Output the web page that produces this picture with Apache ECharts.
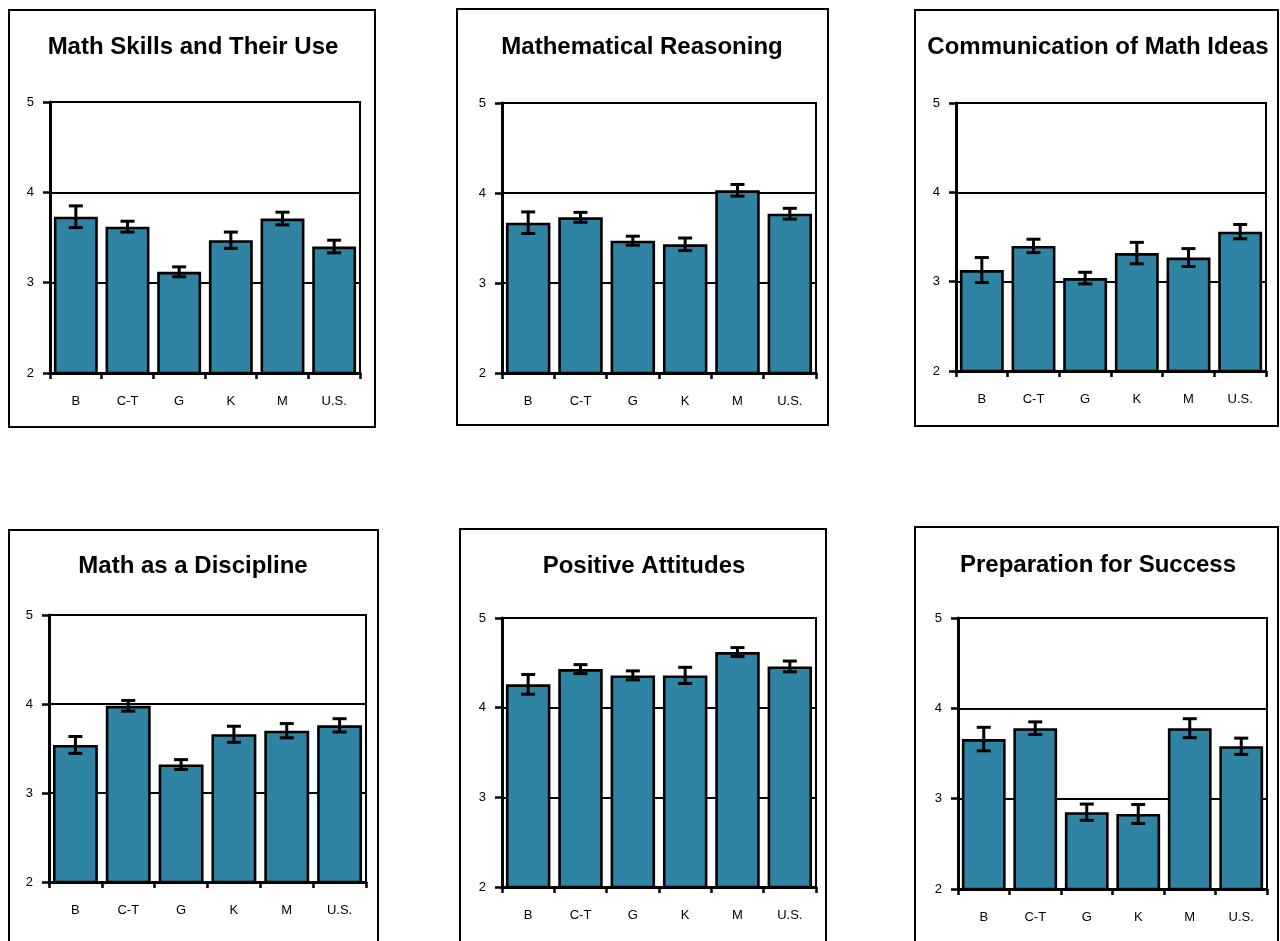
<!DOCTYPE html>
<html>
<head>
<meta charset="utf-8">
<script src="https://cdn.jsdelivr.net/npm/echarts@6/dist/echarts.min.js"></script>
<style>
  html, body { margin: 0; padding: 0; background: #fff; }
  #chart { width: 1280px; height: 941px; }
</style>
</head>
<body>
<div id="chart"></div>
<script>
// Site categories shared by every panel
const categories = ['B', 'C-T', 'G', 'K', 'M', 'U.S.'];
const yTicks = [2, 3, 4, 5];

const titles = [
  'Math Skills and Their Use',
  'Mathematical Reasoning',
  'Communication of Math Ideas',
  'Math as a Discipline',
  'Positive Attitudes',
  'Preparation for Success'
];

// Mean ratings per panel
const skillsMean        = [3.73, 3.62, 3.12, 3.47, 3.71, 3.40];
const reasoningMean     = [3.67, 3.73, 3.47, 3.43, 4.03, 3.77];
const communicationMean = [3.13, 3.40, 3.04, 3.32, 3.27, 3.56];
const disciplineMean    = [3.54, 3.98, 3.32, 3.66, 3.70, 3.76];
const attitudesMean     = [4.26, 4.43, 4.36, 4.36, 4.62, 4.46];
const preparationMean   = [3.66, 3.78, 2.85, 2.83, 3.78, 3.58];

// Half-widths of the error bars per panel
const skillsErr        = [0.12, 0.06, 0.055, 0.09, 0.07, 0.07];
const reasoningErr     = [0.12, 0.055, 0.05, 0.07, 0.065, 0.06];
const communicationErr = [0.14, 0.075, 0.065, 0.12, 0.10, 0.08];
const disciplineErr    = [0.095, 0.06, 0.055, 0.09, 0.08, 0.075];
const attitudesErr     = [0.11, 0.05, 0.05, 0.09, 0.05, 0.06];
const preparationErr   = [0.13, 0.07, 0.09, 0.105, 0.105, 0.09];

const means = [skillsMean, reasoningMean, communicationMean, disciplineMean, attitudesMean, preparationMean];
const errs  = [skillsErr, reasoningErr, communicationErr, disciplineErr, attitudesErr, preparationErr];

// Panel layout: outer frame, plot rectangle, title centre
const panels = [
  { frame: [9, 10, 366, 417],   plot: [50, 102, 310, 271],  title: [193, 47] },
  { frame: [457, 9, 371, 416],  plot: [502, 103, 314, 270], title: [642, 47] },
  { frame: [915, 10, 363, 416], plot: [956, 103, 310, 268], title: [1098, 47] },
  { frame: [9, 530, 369, 500],  plot: [49, 615, 317, 267],  title: [193, 566] },
  { frame: [460, 529, 366, 500], plot: [502, 618, 314, 269], title: [644, 566] },
  { frame: [915, 527, 363, 500], plot: [958, 618, 309, 271], title: [1098, 565] }
];

const FONT = 'Arial, "Liberation Sans", Helvetica, sans-serif';
const BAR_COLOR = '#2e84a2';

const grids = [], xAxes = [], yAxes = [], series = [], graphics = [];

panels.forEach((p, i) => {
  grids.push({
    left: p.plot[0], top: p.plot[1], width: p.plot[2], height: p.plot[3],
    show: true, borderColor: '#000', borderWidth: 2, backgroundColor: 'transparent'
  });
  xAxes.push({
    type: 'category', gridIndex: i, data: categories, boundaryGap: true, z: 5,
    axisLine: { lineStyle: { color: '#000', width: 3 } },
    axisTick: { show: true, length: 6, lineStyle: { color: '#000', width: 2.5 } },
    axisLabel: { color: '#000', fontSize: 13, fontFamily: FONT, margin: 22 },
    splitLine: { show: false }
  });
  yAxes.push({
    type: 'value', gridIndex: i,
    min: yTicks[0], max: yTicks[yTicks.length - 1], interval: 1,
    axisLine: { show: true, lineStyle: { color: '#000', width: 3 } },
    axisTick: { show: true, length: 7, lineStyle: { color: '#000', width: 2.5 } },
    axisLabel: { color: '#000', fontSize: 13, fontFamily: FONT, margin: 16 },
    splitLine: { show: true, lineStyle: { color: '#000', width: 2 } }
  });
  series.push({
    type: 'bar', xAxisIndex: i, yAxisIndex: i,
    data: means[i],
    barCategoryGap: '15%',
    itemStyle: { color: BAR_COLOR, borderColor: '#000', borderWidth: 2.6 },
    emphasis: { disabled: true },
    silent: true
  });
  series.push({
    type: 'custom', xAxisIndex: i, yAxisIndex: i, z: 10, silent: true,
    data: means[i].map((m, k) => [k, m - errs[i][k], m + errs[i][k]]),
    renderItem: (params, api) => {
      const lo = api.coord([api.value(0), api.value(1)]);
      const hi = api.coord([api.value(0), api.value(2)]);
      const half = 7;
      const style = { stroke: '#000', lineWidth: 3, fill: null };
      return {
        type: 'group',
        children: [
          { type: 'line', shape: { x1: lo[0], y1: lo[1], x2: hi[0], y2: hi[1] }, style },
          { type: 'line', shape: { x1: hi[0] - half, y1: hi[1], x2: hi[0] + half, y2: hi[1] }, style },
          { type: 'line', shape: { x1: lo[0] - half, y1: lo[1], x2: lo[0] + half, y2: lo[1] }, style }
        ]
      };
    }
  });
  graphics.push({
    type: 'rect', silent: true, z: -10,
    shape: { x: p.frame[0], y: p.frame[1], width: p.frame[2], height: p.frame[3] },
    style: { fill: 'transparent', stroke: '#000', lineWidth: 2 }
  });
  graphics.push({
    type: 'text', silent: true,
    x: p.title[0], y: p.title[1],
    style: {
      text: titles[i], font: 'bold 24px ' + FONT, fill: '#000',
      align: 'center', verticalAlign: 'middle'
    }
  });
});

const chart = echarts.init(document.getElementById('chart'), null, { renderer: 'canvas' });
chart.setOption({
  animation: false,
  backgroundColor: '#fff',
  grid: grids,
  xAxis: xAxes,
  yAxis: yAxes,
  series: series,
  graphic: graphics
});
</script>
</body>
</html>
